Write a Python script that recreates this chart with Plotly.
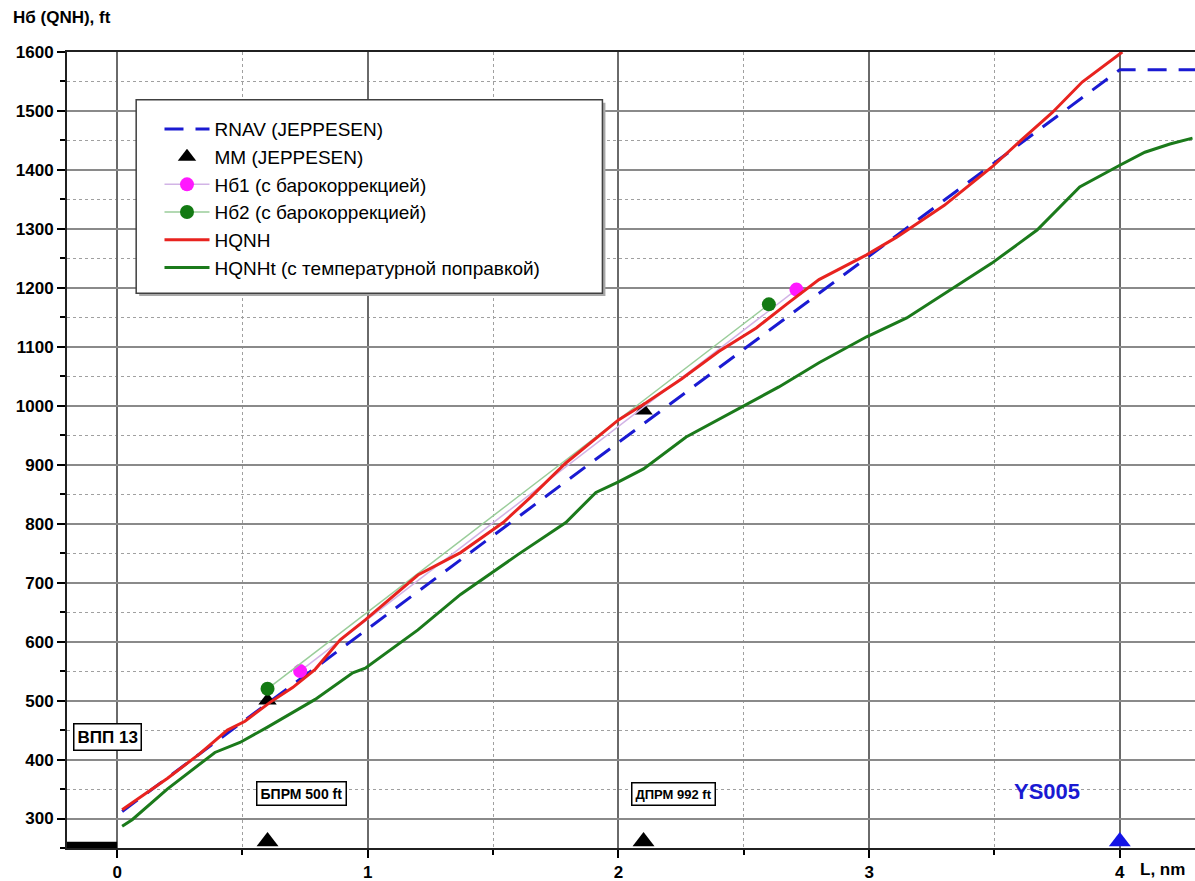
import plotly.graph_objects as go

# ---- data ----
rnav_x = [0.02, 4.0, 4.3]
rnav_y = [312, 1570, 1570]

mm_x = [0.6, 2.1]
mm_y = [500, 992]

hb1_x = [0.73, 2.71]
hb1_y = [550, 1197]

hb2_x = [0.6, 2.6]
hb2_y = [520, 1172]

hqnh_x = [0.02, 0.2, 0.33, 0.44, 0.51, 0.61, 0.7, 0.79, 0.89, 0.99, 1.2, 1.37, 1.54,
          1.65, 1.79, 1.9, 2.0, 2.11, 2.25, 2.4, 2.55, 2.67, 2.8, 2.99, 3.11, 3.3,
          3.49, 3.6, 3.73, 3.85, 4.01]
hqnh_y = [315, 368, 410, 450, 465, 497, 522, 553, 603, 637, 713, 751, 802,
          845, 903, 942, 976, 1005, 1045, 1092, 1132, 1172, 1214, 1256, 1286, 1340,
          1405, 1448, 1497, 1549, 1600]

hqnht_x = [0.02, 0.06, 0.2, 0.39, 0.49, 0.6, 0.79, 0.94, 0.99, 1.2, 1.37, 1.47, 1.6,
           1.79, 1.91, 2.0, 2.1, 2.27, 2.45, 2.64, 2.8, 2.99, 3.15, 3.3, 3.49, 3.67,
           3.84, 4.0, 4.1, 4.2, 4.29]
hqnht_y = [287, 298, 350, 412, 429, 455, 502, 547, 555, 620, 680, 710, 748,
           802, 853, 871, 893, 947, 988, 1032, 1073, 1117, 1149, 1190, 1242, 1298,
           1371, 1408, 1430, 1444, 1454]

beacon_x = [0.6, 2.1]
beacon_y = [261, 261]
ys_x = [4.0]
ys_y = [261]

runway_x = [-0.2, 0.0]
runway_y = [254, 254]

x_ticks = [0, 1, 2, 3, 4]
y_ticks = [300, 400, 500, 600, 700, 800, 900, 1000, 1100, 1200, 1300, 1400, 1500, 1600]

FONT = "Liberation Sans, Arial, sans-serif"

fig = go.Figure()

# non-legend helper marks
fig.add_trace(go.Scatter(x=runway_x, y=runway_y, mode="lines",
                         line=dict(color="black", width=8), showlegend=False,
                         hoverinfo="skip", cliponaxis=False))
fig.add_trace(go.Scatter(x=beacon_x, y=beacon_y, mode="markers",
                         marker=dict(symbol="triangle-up", size=19, color="black"),
                         showlegend=False, cliponaxis=False))
fig.add_trace(go.Scatter(x=ys_x, y=ys_y, mode="markers",
                         marker=dict(symbol="triangle-up", size=19, color="#1414e6"),
                         showlegend=False, cliponaxis=False))

# legend traces
fig.add_trace(go.Scatter(x=rnav_x, y=rnav_y, mode="lines", name="RNAV (JEPPESEN)",
                         line=dict(color="#1a1ad2", width=3, dash="19px,12px")))
fig.add_trace(go.Scatter(x=mm_x, y=mm_y, mode="markers", name="MM (JEPPESEN)",
                         marker=dict(symbol="triangle-up", size=16, color="black")))
fig.add_trace(go.Scatter(x=hb1_x, y=hb1_y, mode="lines+markers", name="Нб1 (с барокоррекцией)",
                         line=dict(color="#d2b4e6", width=1.5),
                         marker=dict(size=14, color="#ff19ff")))
fig.add_trace(go.Scatter(x=hb2_x, y=hb2_y, mode="lines+markers", name="Нб2 (с барокоррекцией)",
                         line=dict(color="#9acd9a", width=1.5),
                         marker=dict(size=14, color="#137a13")))
fig.add_trace(go.Scatter(x=hqnh_x, y=hqnh_y, mode="lines", name="HQNH",
                         line=dict(color="#e8231f", width=3)))
fig.add_trace(go.Scatter(x=hqnht_x, y=hqnht_y, mode="lines", name="HQNHt (с температурной поправкой)",
                         line=dict(color="#1b7a1b", width=3)))

# legend box (drawn as shape)
fig.add_shape(type="rect", xref="x", yref="y", x0=0.088, x1=1.948, y0=1186, y1=1514,
              fillcolor="#a8a8a8", line=dict(width=0), layer="between")
fig.add_shape(type="rect", xref="x", yref="y", x0=0.076, x1=1.936, y0=1191, y1=1519,
              fillcolor="white", line=dict(color="#404040", width=1.5), layer="between")

def boxed(text, x, y, size):
    fig.add_annotation(x=x, y=y, xref="x", yref="y", text=text, showarrow=False,
                       font=dict(family=FONT, size=size, color="black", weight="bold"),
                       bgcolor="white", bordercolor="black", borderwidth=1.5, borderpad=3)

boxed("ВПП 13", -0.04, 439, 17)
boxed("БПРМ 500 ft", 0.735, 342, 14)
boxed("ДПРМ 992 ft", 2.22, 342, 13)

fig.add_annotation(x=3.71, y=346, xref="x", yref="y", text="YS005", showarrow=False,
                   font=dict(family=FONT, size=22, color="#1a1ad2", weight="bold"))
fig.add_annotation(x=0.993, y=-0.012, xref="paper", yref="paper", xanchor="right", yanchor="top",
                   text="L, nm", showarrow=False,
                   font=dict(family=FONT, size=17, color="black", weight="bold"))
fig.add_annotation(x=-0.05, y=1.043, xref="paper", yref="paper", xanchor="left", yanchor="middle",
                   text="Нб (QNH), ft", showarrow=False,
                   font=dict(family=FONT, size=17, color="black", weight="bold"))

fig.update_layout(
    width=1195, height=881,
    margin=dict(l=67, r=0, t=52, b=33, autoexpand=False),
    paper_bgcolor="white", plot_bgcolor="white",
    font=dict(family=FONT, color="black"),
    showlegend=True,
    legend=dict(x=0.082, y=0.927, xanchor="left", yanchor="top",
                bgcolor="rgba(0,0,0,0)", borderwidth=0,
                font=dict(family=FONT, size=19, color="black"),
                itemwidth=45, tracegroupgap=0),
    xaxis=dict(range=[-0.2, 4.3], tickvals=x_ticks, ticktext=[str(v) for v in x_ticks],
               showgrid=True, gridcolor="#6a6a6a", gridwidth=1.5,
               zeroline=False, showline=True, linecolor="#202020", linewidth=2, mirror=True,
               ticks="outside", ticklen=8, tickwidth=2, tickcolor="black",
               tickfont=dict(family=FONT, size=17, color="black", weight="bold"),
               minor=dict(dtick=0.5, tick0=0, showgrid=True, gridcolor="#a0a0a0",
                          griddash="dot", gridwidth=1, ticks="outside", ticklen=5,
                          tickcolor="black")),
    yaxis=dict(range=[250, 1600], tickvals=y_ticks, ticktext=[str(v) for v in y_ticks],
               showgrid=True, gridcolor="#8a8a8a", gridwidth=1.5,
               zeroline=False, showline=True, linecolor="#202020", linewidth=2,
               ticks="outside", ticklen=8, tickwidth=2, tickcolor="black",
               tickfont=dict(family=FONT, size=17, color="black", weight="bold"),
               minor=dict(dtick=50, tick0=0, showgrid=True, gridcolor="#a0a0a0",
                          griddash="dot", gridwidth=1, ticks="outside", ticklen=5,
                          tickcolor="black")),
)

fig.write_html("out.html", config={"displayModeBar": False},
               post_script="document.body.style.margin='0';document.body.style.overflow='hidden';")
